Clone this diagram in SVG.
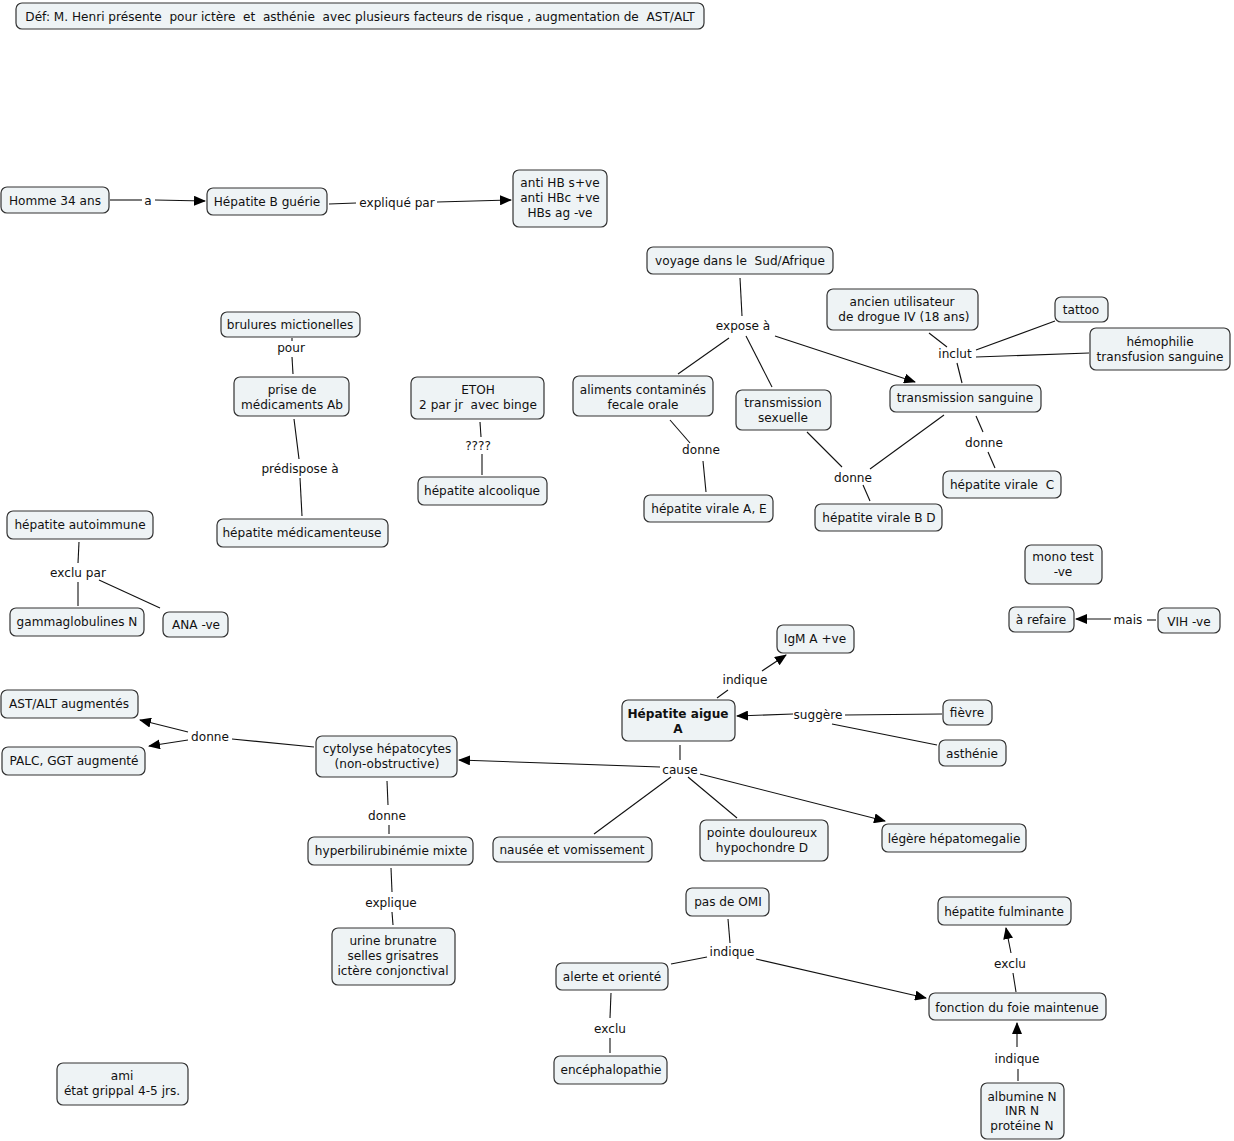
<svg xmlns="http://www.w3.org/2000/svg" width="1234" height="1141" viewBox="0 0 1234 1141">
<defs>
<marker id="ah" markerUnits="userSpaceOnUse" markerWidth="12" markerHeight="10" refX="11" refY="5" orient="auto">
<path d="M0,0 L12,5 L0,10 Z" fill="#000"/>
</marker>
<style>
.n rect{fill:#eef3f5;stroke:#333;stroke-width:1.2}
text{font-family:"DejaVu Sans",Verdana,sans-serif;font-size:12.1px;fill:#111;text-anchor:middle;white-space:pre}
.b{font-weight:bold}
#connectors line{stroke:#111;stroke-width:1.1}
.arr{marker-end:url(#ah)}
</style>
</defs>
<rect width="1234" height="1141" fill="#fff"/>

<g id="connectors">
<line x1="110" y1="200" x2="142" y2="200"/>
<line class="arr" x1="155" y1="200" x2="205" y2="201"/>
<line x1="329" y1="204" x2="356" y2="203"/>
<line class="arr" x1="437" y1="202" x2="511" y2="200"/>
<line x1="740" y1="278" x2="742" y2="316"/>
<line x1="729" y1="338" x2="678" y2="374"/>
<line x1="746" y1="336" x2="772" y2="387"/>
<line class="arr" x1="775" y1="336" x2="915" y2="382"/>
<line x1="929" y1="333" x2="947" y2="347"/>
<line x1="1055" y1="321" x2="976" y2="350"/>
<line x1="1089" y1="353" x2="976" y2="357"/>
<line x1="957" y1="363" x2="962" y2="383"/>
<line x1="670" y1="420" x2="690" y2="443"/>
<line x1="703" y1="461" x2="706" y2="492"/>
<line x1="807" y1="432" x2="842" y2="467"/>
<line x1="944" y1="415" x2="870" y2="469"/>
<line x1="863" y1="485" x2="870" y2="501"/>
<line x1="976" y1="416" x2="983" y2="432"/>
<line x1="988" y1="452" x2="995" y2="468"/>
<line x1="292" y1="338" x2="292" y2="341"/>
<line x1="292" y1="357" x2="293" y2="374"/>
<line x1="294" y1="419" x2="299" y2="459"/>
<line x1="300" y1="478" x2="302" y2="516"/>
<line x1="480" y1="422" x2="481" y2="437"/>
<line x1="482" y1="454" x2="482" y2="475"/>
<line x1="79" y1="542" x2="78" y2="563"/>
<line x1="78" y1="582" x2="78" y2="606"/>
<line x1="99" y1="580" x2="160" y2="608"/>
<line x1="1147" y1="620" x2="1156" y2="620"/>
<line class="arr" x1="1111" y1="619" x2="1076" y2="619"/>
<line x1="717" y1="698" x2="728" y2="690"/>
<line class="arr" x1="762" y1="671" x2="786" y2="655"/>
<line x1="942" y1="714" x2="845" y2="715"/>
<line class="arr" x1="793" y1="714" x2="737" y2="716"/>
<line x1="937" y1="745" x2="832" y2="724"/>
<line x1="680" y1="745" x2="680" y2="760"/>
<line class="arr" x1="660" y1="767" x2="459" y2="760"/>
<line x1="671" y1="777" x2="594" y2="834"/>
<line x1="688" y1="777" x2="737" y2="818"/>
<line class="arr" x1="700" y1="774" x2="885" y2="821"/>
<line x1="314" y1="747" x2="232" y2="739"/>
<line class="arr" x1="188" y1="732" x2="140" y2="720"/>
<line class="arr" x1="188" y1="740" x2="149" y2="746"/>
<line x1="387" y1="781" x2="388" y2="805"/>
<line x1="389" y1="825" x2="389" y2="834"/>
<line x1="391" y1="868" x2="392" y2="892"/>
<line x1="392" y1="912" x2="393" y2="925"/>
<line x1="728" y1="919" x2="730" y2="943"/>
<line x1="671" y1="964" x2="707" y2="957"/>
<line class="arr" x1="756" y1="959" x2="926" y2="998"/>
<line x1="611" y1="993" x2="610" y2="1018"/>
<line x1="610" y1="1038" x2="610" y2="1053"/>
<line x1="1016" y1="992" x2="1013" y2="973"/>
<line class="arr" x1="1011" y1="953" x2="1006" y2="928"/>
<line x1="1018" y1="1081" x2="1018" y2="1069"/>
<line class="arr" x1="1017" y1="1047" x2="1017" y2="1023"/>

<text x="148" y="205">a</text>
<text x="397" y="207">expliqué par</text>
<text x="743" y="330">expose à</text>
<text x="955" y="358">inclut</text>
<text x="701" y="454">donne</text>
<text x="853" y="482">donne</text>
<text x="984" y="447">donne</text>
<text x="291" y="352">pour</text>
<text x="300" y="473">prédispose à</text>
<text x="478" y="450">????</text>
<text x="78" y="577">exclu par</text>
<text x="1128" y="624">mais</text>
<text x="745" y="684">indique</text>
<text x="818" y="719">suggère</text>
<text x="680" y="774">cause</text>
<text x="210" y="741">donne</text>
<text x="387" y="820">donne</text>
<text x="391" y="907">explique</text>
<text x="732" y="956">indique</text>
<text x="610" y="1033">exclu</text>
<text x="1010" y="968">exclu</text>
<text x="1017" y="1063">indique</text>
</g>

<g id="n-title" class="n"><rect x="16" y="3" width="688" height="26" rx="6"/><text x="360" y="21" xml:space="preserve">Déf: M. Henri présente  pour ictère  et  asthénie  avec plusieurs facteurs de risque , augmentation de  AST/ALT</text></g>
<g id="n-homme" class="n"><rect x="1" y="187" width="108" height="26" rx="6"/><text x="55" y="205">Homme 34 ans</text></g>
<g id="n-hepB" class="n"><rect x="207" y="188" width="120" height="27" rx="6"/><text x="267" y="206">Hépatite B guérie</text></g>
<g id="n-antiHB" class="n"><rect x="513" y="170" width="94" height="57" rx="6"/><text x="560" y="187">anti HB s+ve</text><text x="560" y="202">anti HBc +ve</text><text x="560" y="217">HBs ag -ve</text></g>
<g id="n-voyage" class="n"><rect x="647" y="247" width="186" height="27" rx="6"/><text x="740" y="265" xml:space="preserve">voyage dans le  Sud/Afrique</text></g>
<g id="n-ancien" class="n"><rect x="827" y="289" width="151" height="41" rx="6"/><text x="902" y="306">ancien utilisateur</text><text x="902" y="321"> de drogue IV (18 ans)</text></g>
<g id="n-tattoo" class="n"><rect x="1055" y="297" width="53" height="25" rx="6"/><text x="1081" y="314">tattoo</text></g>
<g id="n-hemo" class="n"><rect x="1090" y="328" width="140" height="42" rx="6"/><text x="1160" y="346">hémophilie</text><text x="1160" y="361">transfusion sanguine</text></g>
<g id="n-aliments" class="n"><rect x="573" y="376" width="140" height="40" rx="6"/><text x="643" y="394">aliments contaminés</text><text x="643" y="409">fecale orale</text></g>
<g id="n-sexuelle" class="n"><rect x="736" y="390" width="95" height="40" rx="6"/><text x="783" y="407">transmission</text><text x="783" y="422">sexuelle</text></g>
<g id="n-sanguine" class="n"><rect x="890" y="385" width="151" height="27" rx="6"/><text x="965" y="402">transmission sanguine</text></g>
<g id="n-hvAE" class="n"><rect x="644" y="495" width="129" height="27" rx="6"/><text x="709" y="513">hépatite virale A, E</text></g>
<g id="n-hvBD" class="n"><rect x="815" y="504" width="127" height="27" rx="6"/><text x="879" y="522">hépatite virale B D</text></g>
<g id="n-hvC" class="n"><rect x="943" y="471" width="118" height="27" rx="6"/><text x="1002" y="489" xml:space="preserve">hépatite virale  C</text></g>
<g id="n-brulures" class="n"><rect x="221" y="312" width="139" height="25" rx="6"/><text x="290" y="329">brulures mictionelles</text></g>
<g id="n-prise" class="n"><rect x="234" y="377" width="115" height="39" rx="6"/><text x="292" y="394">prise de</text><text x="292" y="409">médicaments Ab</text></g>
<g id="n-etoh" class="n"><rect x="411" y="377" width="133" height="42" rx="6"/><text x="478" y="394">ETOH</text><text x="478" y="409" xml:space="preserve">2 par jr  avec binge</text></g>
<g id="n-alcool" class="n"><rect x="418" y="477" width="129" height="28" rx="6"/><text x="482" y="495">hépatite alcoolique</text></g>
<g id="n-medic" class="n"><rect x="217" y="519" width="171" height="28" rx="6"/><text x="302" y="537">hépatite médicamenteuse</text></g>
<g id="n-autoimm" class="n"><rect x="7" y="511" width="146" height="28" rx="6"/><text x="80" y="529">hépatite autoimmune</text></g>
<g id="n-gamma" class="n"><rect x="10" y="608" width="134" height="28" rx="6"/><text x="77" y="626">gammaglobulines N</text></g>
<g id="n-ana" class="n"><rect x="163" y="612" width="65" height="25" rx="6"/><text x="196" y="629">ANA -ve</text></g>
<g id="n-mono" class="n"><rect x="1025" y="545" width="77" height="39" rx="6"/><text x="1063" y="561">mono test</text><text x="1063" y="576">-ve</text></g>
<g id="n-refaire" class="n"><rect x="1009" y="607" width="65" height="25" rx="6"/><text x="1041" y="624">à refaire</text></g>
<g id="n-vih" class="n"><rect x="1158" y="608" width="62" height="25" rx="6"/><text x="1189" y="626">VIH -ve</text></g>
<g id="n-igm" class="n"><rect x="777" y="625" width="77" height="28" rx="6"/><text x="815" y="643">IgM A +ve</text></g>
<g id="n-hepA" class="n"><rect x="622" y="700" width="113" height="41" rx="6"/><text class="b" x="678" y="718">Hépatite aigue</text><text class="b" x="678" y="733">A</text></g>
<g id="n-fievre" class="n"><rect x="943" y="700" width="49" height="25" rx="6"/><text x="967" y="717">fièvre</text></g>
<g id="n-asthenie" class="n"><rect x="939" y="740" width="67" height="26" rx="6"/><text x="972" y="758">asthénie</text></g>
<g id="n-hepatomeg" class="n"><rect x="882" y="824" width="144" height="28" rx="6"/><text x="954" y="843">légère hépatomegalie</text></g>
<g id="n-pointe" class="n"><rect x="700" y="820" width="128" height="41" rx="6"/><text x="762" y="837">pointe douloureux</text><text x="762" y="852">hypochondre D</text></g>
<g id="n-nausee" class="n"><rect x="493" y="837" width="159" height="25" rx="6"/><text x="572" y="854">nausée et vomissement</text></g>
<g id="n-cytolyse" class="n"><rect x="316" y="736" width="141" height="41" rx="6"/><text x="387" y="753">cytolyse hépatocytes</text><text x="387" y="768">(non-obstructive)</text></g>
<g id="n-astalt" class="n"><rect x="1" y="690" width="137" height="28" rx="6"/><text x="69" y="708">AST/ALT augmentés</text></g>
<g id="n-palc" class="n"><rect x="2" y="747" width="143" height="28" rx="6"/><text x="74" y="765">PALC, GGT augmenté</text></g>
<g id="n-hyperbili" class="n"><rect x="308" y="837" width="165" height="28" rx="6"/><text x="391" y="855">hyperbilirubinémie mixte</text></g>
<g id="n-urine" class="n"><rect x="332" y="928" width="123" height="57" rx="6"/><text x="393" y="945">urine brunatre</text><text x="393" y="960">selles grisatres</text><text x="393" y="975">ictère conjonctival</text></g>
<g id="n-omi" class="n"><rect x="686" y="888" width="83" height="28" rx="6"/><text x="728" y="906">pas de OMI</text></g>
<g id="n-alerte" class="n"><rect x="556" y="963" width="112" height="27" rx="6"/><text x="612" y="981">alerte et orienté</text></g>
<g id="n-enceph" class="n"><rect x="554" y="1056" width="113" height="28" rx="6"/><text x="611" y="1074">encéphalopathie</text></g>
<g id="n-fulmin" class="n"><rect x="938" y="897" width="133" height="28" rx="6"/><text x="1004" y="916">hépatite fulminante</text></g>
<g id="n-fonction" class="n"><rect x="929" y="993" width="177" height="27" rx="6"/><text x="1017" y="1012">fonction du foie maintenue</text></g>
<g id="n-albumine" class="n"><rect x="981" y="1083" width="83" height="56" rx="6"/><text x="1022" y="1101">albumine N</text><text x="1022" y="1115">INR N</text><text x="1022" y="1130">protéine N</text></g>
<g id="n-ami" class="n"><rect x="57" y="1063" width="131" height="42" rx="6"/><text x="122" y="1080">ami</text><text x="122" y="1095">état grippal 4-5 jrs.</text></g>
</svg>
